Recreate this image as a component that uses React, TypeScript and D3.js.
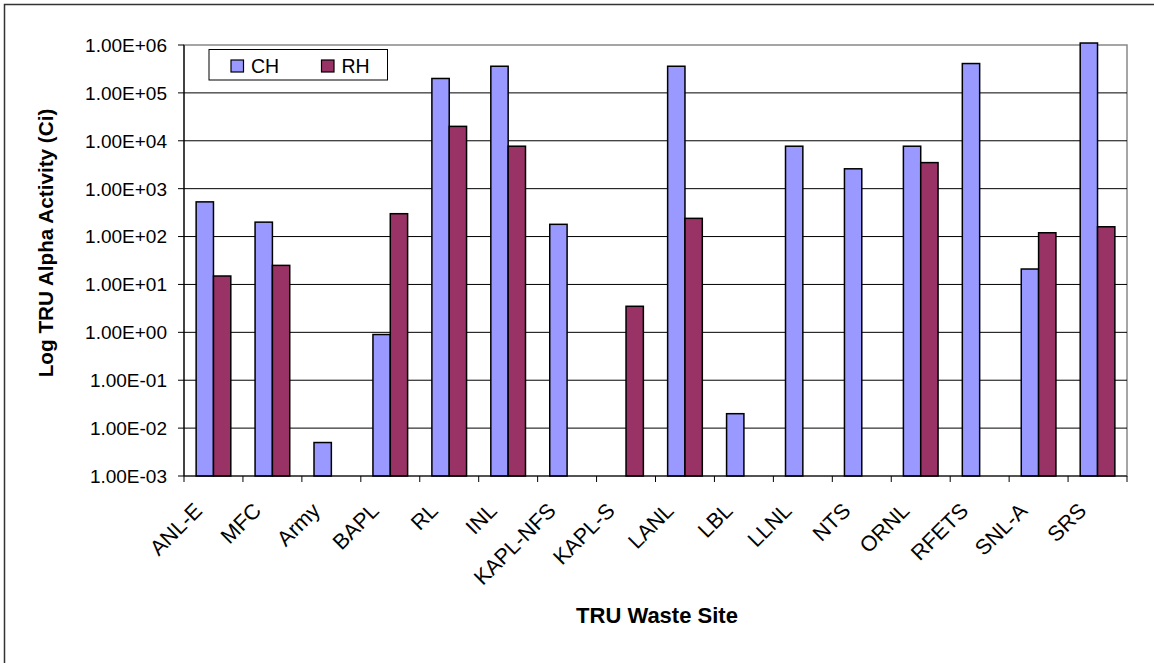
import React from 'react';
import * as d3 from 'd3';

const sites = ['ANL-E', 'MFC', 'Army', 'BAPL', 'RL', 'INL', 'KAPL-NFS', 'KAPL-S', 'LANL', 'LBL', 'LLNL', 'NTS', 'ORNL', 'RFETS', 'SNL-A', 'SRS'];
// null = no bar for that site
const chValues = [530, 200, 0.005, 0.9, 2.0e5, 3.6e5, 180, null, 3.6e5, 0.02, 7.7e3, 2.6e3, 7.7e3, 4.1e5, 21, 1.1e6];
const rhValues = [15, 25, null, 300, 2.0e4, 7.7e3, null, 3.5, 240, null, null, null, 3.5e3, null, 120, 160];
const seriesNames = ['CH', 'RH'];
const seriesColors = ['#9999FF', '#993366'];
const yTicks = [1e-3, 1e-2, 1e-1, 1e0, 1e1, 1e2, 1e3, 1e4, 1e5, 1e6];

const W = 1154;
const H = 663;
const margin = { left: 184, right: 1127, top: 45, bottom: 476 };
const font = 'Arial, "Liberation Sans", sans-serif';

const fmt = (v: number) => {
  const e = Math.round(Math.log10(v));
  const sign = e < 0 ? '-' : '+';
  return `1.00E${sign}${String(Math.abs(e)).padStart(2, '0')}`;
};

export default function App() {
  const x = d3.scaleBand<string>().domain(sites).range([margin.left, margin.right]);
  const inner = d3.scaleBand<number>().domain([0, 1]).range([0, x.bandwidth()]).paddingOuter(0.7).paddingInner(0);
  const y = d3.scaleLog().domain([1e-3, 1e6]).range([margin.bottom, margin.top]);
  const series = [chValues, rhValues];

  return (
    <svg width={W} height={H} style={{ position: 'absolute', left: 0, top: 0, background: '#fff' }}>
      {/* outer frame */}
      <rect x={4.5} y={4.5} width={W + 10} height={H + 10} fill="none" stroke="#333" strokeWidth={1.5} />

      {/* plot area border */}
      <rect x={margin.left} y={margin.top} width={margin.right - margin.left} height={margin.bottom - margin.top}
        fill="none" stroke="#888" strokeWidth={1.5} />

      {/* gridlines + y ticks */}
      {yTicks.map(t => (
        <g key={t}>
          {t > 1e-3 && t < 1e6 && (
            <line x1={margin.left} x2={margin.right} y1={y(t)} y2={y(t)} stroke="#000" strokeWidth={1} />
          )}
          <line x1={margin.left - 6} x2={margin.left} y1={y(t)} y2={y(t)} stroke="#000" strokeWidth={1} />
          <text x={margin.left - 17} y={y(t)} dy="0.36em" textAnchor="end" fontFamily={font} fontSize={19}>
            {fmt(t)}
          </text>
        </g>
      ))}

      {/* bars */}
      {sites.map((s, i) => (
        <g key={s}>
          {series.map((vals, k) => {
            const v = vals[i];
            if (v == null) return null;
            const bx = (x(s) as number) + (inner(k) as number);
            return (
              <rect key={k} x={bx} y={y(v)} width={inner.bandwidth()} height={margin.bottom - y(v)}
                fill={seriesColors[k]} stroke="#000" strokeWidth={1.5} />
            );
          })}
        </g>
      ))}

      {/* axes lines */}
      <line x1={margin.left} x2={margin.left} y1={margin.top} y2={margin.bottom} stroke="#000" strokeWidth={1.2} />
      <line x1={margin.left} x2={margin.right} y1={margin.bottom} y2={margin.bottom} stroke="#000" strokeWidth={1.2} />
      {sites.map(s => (
        <line key={s} x1={(x(s) as number)} x2={(x(s) as number)} y1={margin.bottom} y2={margin.bottom + 6} stroke="#000" />
      ))}
      <line x1={margin.right} x2={margin.right} y1={margin.bottom} y2={margin.bottom + 6} stroke="#000" />

      {/* x tick labels */}
      {sites.map(s => {
        const cx = (x(s) as number) + x.bandwidth() / 2 - 10;
        const cy = margin.bottom + 36;
        return (
          <text key={s} x={cx} y={cy} textAnchor="end" fontFamily={font} fontSize={21.5}
            transform={`rotate(-45 ${cx} ${cy})`}>
            {s}
          </text>
        );
      })}

      {/* axis titles */}
      <text x={657} y={623} textAnchor="middle" fontFamily={font} fontWeight="bold" fontSize={22}>TRU Waste Site</text>
      <text transform={`translate(53,243) rotate(-90)`} textAnchor="middle" fontFamily={font} fontWeight="bold" fontSize={20.7}>
        Log TRU Alpha Activity (Ci)
      </text>

      {/* legend */}
      <rect x={209} y={49.5} width={178.5} height={30.5} fill="#fff" stroke="#000" strokeWidth={1} />
      {seriesNames.map((n, k) => {
        const lx = 231 + k * 90.5;
        return (
          <g key={n}>
            <rect x={lx} y={60} width={12.5} height={12} fill={seriesColors[k]} stroke="#000" strokeWidth={1.2} />
            <text x={lx + 20} y={72.5} fontFamily={font} fontSize={19.5}>{n}</text>
          </g>
        );
      })}
    </svg>
  );
}
